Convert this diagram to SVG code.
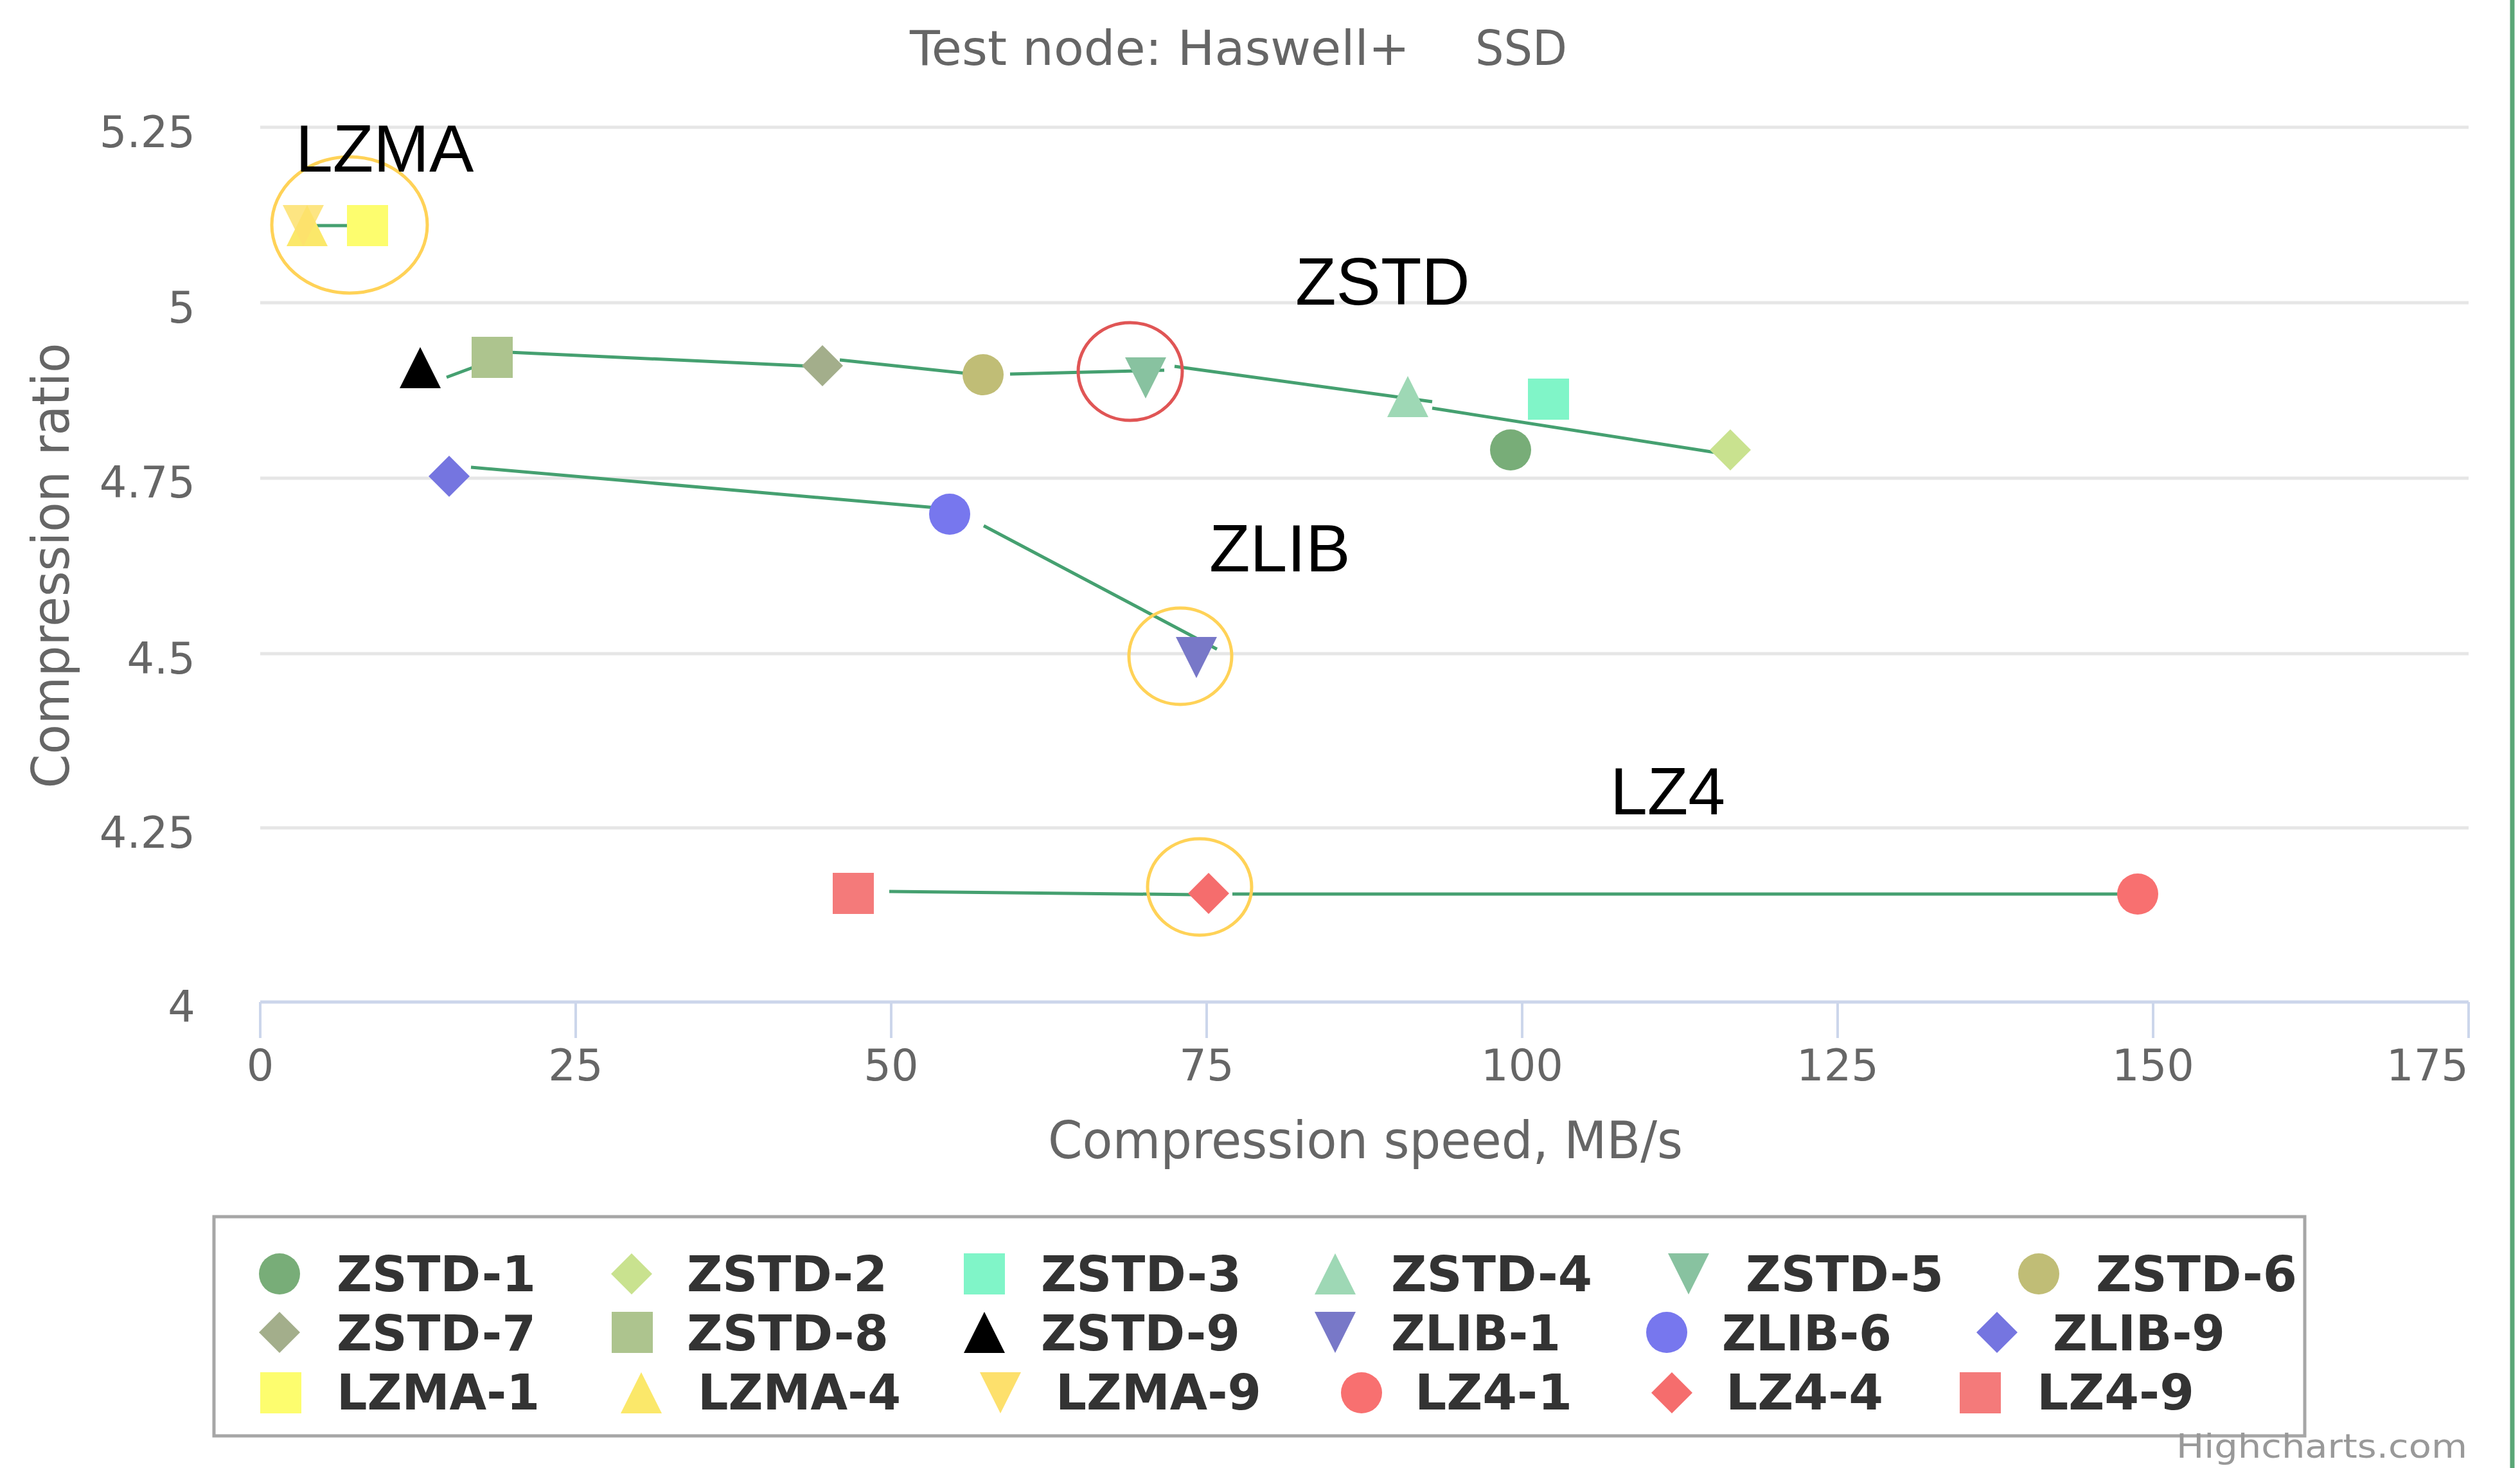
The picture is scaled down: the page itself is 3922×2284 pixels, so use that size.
<svg xmlns="http://www.w3.org/2000/svg" xmlns:xlink="http://www.w3.org/1999/xlink" width="3922" height="2284" viewBox="0 0 3922 2284">
<style>
.grid{stroke:#e6e6e6;stroke-width:5}
.axis{stroke:#ccd6eb;stroke-width:5}
.tick{stroke:#ccd6eb;stroke-width:4}
.lbl{font-family:"DejaVu Sans",Verdana,sans-serif;font-size:67px;fill:#666666}
.ttl{font-family:"DejaVu Sans",Verdana,sans-serif;fill:#666666}
.ann{font-family:"Liberation Sans",Arial,sans-serif;font-size:104px;fill:#000000}
.leg{font-family:"DejaVu Sans",Verdana,sans-serif;font-size:76px;font-weight:bold;fill:#333333}
.conn{stroke:#45a070;stroke-width:5;fill:none;stroke-linecap:butt}
.ring{fill:none;stroke-width:5}
</style>
<defs>
<circle id="m-circle" cx="0" cy="0" r="32"/>
<rect id="m-square" x="-32" y="-32" width="64" height="64"/>
<path id="m-diamond" d="M0,-32 L32,0 L0,32 L-32,0 Z"/>
<path id="m-up" d="M0,-32 L32,32 L-32,32 Z"/>
<path id="m-down" d="M-32,-32 L32,-32 L0,32 Z"/>
</defs>
<rect x="0" y="0" width="3922" height="2284" fill="#ffffff"/>
<line x1="3910" y1="0" x2="3910" y2="2284" stroke="#5aa676" stroke-width="7"/>

<g id="title">
<text class="ttl" x="1416" y="101" font-size="75" textLength="778" lengthAdjust="spacingAndGlyphs">Test node: Haswell+</text>
<text class="ttl" x="2296" y="101" font-size="75" textLength="143" lengthAdjust="spacingAndGlyphs">SSD</text>
</g>

<g id="grid">
<line class="grid" x1="405" y1="198" x2="3842" y2="198"/>
<line class="grid" x1="405" y1="471" x2="3842" y2="471"/>
<line class="grid" x1="405" y1="744" x2="3842" y2="744"/>
<line class="grid" x1="405" y1="1017" x2="3842" y2="1017"/>
<line class="grid" x1="405" y1="1288" x2="3842" y2="1288"/>
</g>

<g id="y-axis">
<text class="lbl" x="304" y="229" text-anchor="end">5.25</text>
<text class="lbl" x="304" y="502" text-anchor="end">5</text>
<text class="lbl" x="304" y="774" text-anchor="end">4.75</text>
<text class="lbl" x="304" y="1048" text-anchor="end">4.5</text>
<text class="lbl" x="304" y="1319" text-anchor="end">4.25</text>
<text class="lbl" x="304" y="1590" text-anchor="end">4</text>
<text class="ttl" font-size="80" text-anchor="middle" transform="translate(107,880) rotate(-90)" textLength="693" lengthAdjust="spacingAndGlyphs">Compression ratio</text>
</g>

<g id="x-axis">
<line class="axis" x1="405" y1="1559" x2="3842" y2="1559"/>
<line class="tick" x1="405" y1="1559" x2="405" y2="1615"/>
<line class="tick" x1="896" y1="1559" x2="896" y2="1615"/>
<line class="tick" x1="1387" y1="1559" x2="1387" y2="1615"/>
<line class="tick" x1="1878" y1="1559" x2="1878" y2="1615"/>
<line class="tick" x1="2369" y1="1559" x2="2369" y2="1615"/>
<line class="tick" x1="2860" y1="1559" x2="2860" y2="1615"/>
<line class="tick" x1="3351" y1="1559" x2="3351" y2="1615"/>
<line class="tick" x1="3842" y1="1559" x2="3842" y2="1615"/>
<text class="lbl" x="405" y="1681" text-anchor="middle">0</text>
<text class="lbl" x="896" y="1681" text-anchor="middle">25</text>
<text class="lbl" x="1387" y="1681" text-anchor="middle">50</text>
<text class="lbl" x="1878" y="1681" text-anchor="middle">75</text>
<text class="lbl" x="2369" y="1681" text-anchor="middle">100</text>
<text class="lbl" x="2860" y="1681" text-anchor="middle">125</text>
<text class="lbl" x="3351" y="1681" text-anchor="middle">150</text>
<text class="lbl" x="3842" y="1681" text-anchor="end">175</text>
<text class="ttl" x="1631" y="1802" font-size="80" textLength="988" lengthAdjust="spacingAndGlyphs">Compression speed, MB/s</text>
</g>

<g id="connectors">
<line class="conn" x1="493" y1="351" x2="595" y2="351"/>
<line class="conn" x1="695" y1="587" x2="784" y2="554"/>
<line class="conn" x1="792" y1="548" x2="1289" y2="571"/>
<line class="conn" x1="1307" y1="560" x2="1552" y2="586"/>
<line class="conn" x1="1572" y1="582" x2="1812" y2="576"/>
<line class="conn" x1="1828" y1="570" x2="2229" y2="625"/>
<line class="conn" x1="2229" y1="635" x2="2708" y2="710"/>
<line class="conn" x1="733" y1="727" x2="1480" y2="792"/>
<line class="conn" x1="1531" y1="818" x2="1894" y2="1010"/>
<line class="conn" x1="1384" y1="1387" x2="1862" y2="1392"/>
<line class="conn" x1="1918" y1="1391" x2="3340" y2="1391"/>
</g>

<g id="points">
<g id="p-zstd-9"><use href="#m-up" x="654" y="572" fill="#000000"/></g>
<g id="p-zstd-8"><use href="#m-square" x="766" y="556" fill="#adc48e"/></g>
<g id="p-zstd-7"><use href="#m-diamond" x="1280" y="569" fill="#a3ae8b"/></g>
<g id="p-zstd-6"><use href="#m-circle" x="1530" y="583" fill="#c0bd76"/></g>
<g id="p-zstd-5"><use href="#m-down" x="1783" y="588" fill="#88c2a0"/></g>
<g id="p-zstd-4"><use href="#m-up" x="2191" y="617" fill="#9ed8b5"/></g>
<g id="p-zstd-3"><use href="#m-square" x="2410" y="621" fill="#80f5c8"/></g>
<g id="p-zstd-1"><use href="#m-circle" x="2351" y="700" fill="#78ad78"/></g>
<g id="p-zstd-2"><use href="#m-diamond" x="2693" y="700" fill="#c9e28f"/></g>
<g id="p-zlib-9"><use href="#m-diamond" x="699" y="741" fill="#7575e0"/></g>
<g id="p-zlib-6"><use href="#m-circle" x="1478" y="800" fill="#7777ee"/></g>
<g id="p-zlib-1"><use href="#m-down" x="1862" y="1023" fill="#7878c8"/></g>
<g id="p-lzma-1"><use href="#m-square" x="572" y="351" fill="#fdfd6e"/></g>
<g id="p-lzma-4"><use href="#m-up" x="478" y="351" fill="#fbe86a"/></g>
<g id="p-lzma-9"><use href="#m-down" x="472" y="351" fill="#fde06c" fill-opacity="0.85"/></g>
<g id="p-lz4-9"><use href="#m-square" x="1328" y="1390" fill="#f47a7a"/></g>
<g id="p-lz4-4"><use href="#m-diamond" x="1881" y="1390" fill="#f56d6d"/></g>
<g id="p-lz4-1"><use href="#m-circle" x="3327" y="1391" fill="#f87070"/></g>
</g>

<g id="highlights">
<ellipse class="ring" cx="544" cy="350" rx="121" ry="106" stroke="#ffd257"/>
<ellipse class="ring" cx="1759" cy="578" rx="81" ry="76" stroke="#e05555"/>
<ellipse class="ring" cx="1837" cy="1021" rx="80" ry="75" stroke="#ffd257"/>
<ellipse class="ring" cx="1867" cy="1380" rx="81" ry="75" stroke="#ffd257"/>
</g>

<g id="annotations">
<text class="ann" x="460" y="267">LZMA</text>
<text class="ann" x="2016" y="474">ZSTD</text>
<text class="ann" x="1882" y="889">ZLIB</text>
<text class="ann" x="2506" y="1267">LZ4</text>
</g>

<g id="legend">
<rect x="333" y="1893" width="3254" height="341" fill="#ffffff" stroke="#a6a6a6" stroke-width="5"/>
<g id="leg-zstd-1"><use href="#m-circle" x="435" y="1982" fill="#78ad78"/><text class="leg" x="524" y="2009" textLength="310" lengthAdjust="spacingAndGlyphs">ZSTD-1</text></g>
<g id="leg-zstd-2"><use href="#m-diamond" x="983" y="1982" fill="#c9e28f"/><text class="leg" x="1069" y="2009" textLength="312" lengthAdjust="spacingAndGlyphs">ZSTD-2</text></g>
<g id="leg-zstd-3"><use href="#m-square" x="1532" y="1982" fill="#80f5c8"/><text class="leg" x="1620" y="2009" textLength="312" lengthAdjust="spacingAndGlyphs">ZSTD-3</text></g>
<g id="leg-zstd-4"><use href="#m-up" x="2078" y="1982" fill="#9ed8b5"/><text class="leg" x="2165" y="2009" textLength="313" lengthAdjust="spacingAndGlyphs">ZSTD-4</text></g>
<g id="leg-zstd-5"><use href="#m-down" x="2628" y="1982" fill="#88c2a0"/><text class="leg" x="2717" y="2009" textLength="308" lengthAdjust="spacingAndGlyphs">ZSTD-5</text></g>
<g id="leg-zstd-6"><use href="#m-circle" x="3173" y="1982" fill="#c0bd76"/><text class="leg" x="3262" y="2009" textLength="313" lengthAdjust="spacingAndGlyphs">ZSTD-6</text></g>
<g id="leg-zstd-7"><use href="#m-diamond" x="435" y="2073" fill="#a3ae8b"/><text class="leg" x="524" y="2101" textLength="310" lengthAdjust="spacingAndGlyphs">ZSTD-7</text></g>
<g id="leg-zstd-8"><use href="#m-square" x="984" y="2073" fill="#adc48e"/><text class="leg" x="1069" y="2101" textLength="314" lengthAdjust="spacingAndGlyphs">ZSTD-8</text></g>
<g id="leg-zstd-9"><use href="#m-up" x="1532" y="2073" fill="#000000"/><text class="leg" x="1620" y="2101" textLength="310" lengthAdjust="spacingAndGlyphs">ZSTD-9</text></g>
<g id="leg-zlib-1"><use href="#m-down" x="2078" y="2073" fill="#7878c8"/><text class="leg" x="2165" y="2101" textLength="264" lengthAdjust="spacingAndGlyphs">ZLIB-1</text></g>
<g id="leg-zlib-6"><use href="#m-circle" x="2594" y="2073" fill="#7777ee"/><text class="leg" x="2680" y="2101" textLength="264" lengthAdjust="spacingAndGlyphs">ZLIB-6</text></g>
<g id="leg-zlib-9"><use href="#m-diamond" x="3108" y="2073" fill="#7575e0"/><text class="leg" x="3195" y="2101" textLength="268" lengthAdjust="spacingAndGlyphs">ZLIB-9</text></g>
<g id="leg-lzma-1"><use href="#m-square" x="437" y="2167" fill="#fdfd6e"/><text class="leg" x="524" y="2193" textLength="316" lengthAdjust="spacingAndGlyphs">LZMA-1</text></g>
<g id="leg-lzma-4"><use href="#m-up" x="998" y="2167" fill="#fbe86a"/><text class="leg" x="1086" y="2193" textLength="316" lengthAdjust="spacingAndGlyphs">LZMA-4</text></g>
<g id="leg-lzma-9"><use href="#m-down" x="1557" y="2167" fill="#fde06c"/><text class="leg" x="1643" y="2193" textLength="320" lengthAdjust="spacingAndGlyphs">LZMA-9</text></g>
<g id="leg-lz4-1"><use href="#m-circle" x="2119" y="2167" fill="#f87070"/><text class="leg" x="2202" y="2193" textLength="245" lengthAdjust="spacingAndGlyphs">LZ4-1</text></g>
<g id="leg-lz4-4"><use href="#m-diamond" x="2602" y="2167" fill="#f56d6d"/><text class="leg" x="2686" y="2193" textLength="245" lengthAdjust="spacingAndGlyphs">LZ4-4</text></g>
<g id="leg-lz4-9"><use href="#m-square" x="3082" y="2167" fill="#f47a7a"/><text class="leg" x="3170" y="2193" textLength="245" lengthAdjust="spacingAndGlyphs">LZ4-9</text></g>
</g>

<text x="3387" y="2268" font-family="DejaVu Sans,Verdana,sans-serif" font-size="52" fill="#999999" textLength="453" lengthAdjust="spacingAndGlyphs">Highcharts.com</text>
</svg>
